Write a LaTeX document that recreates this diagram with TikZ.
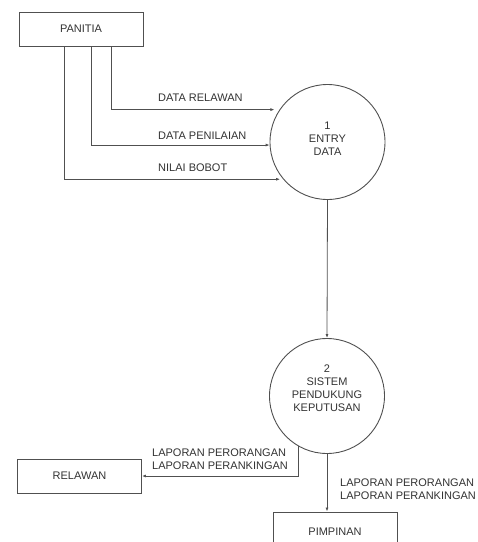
\documentclass[tikz,border=0pt]{standalone}
\usepackage{fontspec}
\setmainfont{Liberation Sans}
\usetikzlibrary{arrows.meta}
\definecolor{ln}{HTML}{505050}
\definecolor{tx}{HTML}{333333}
\begin{document}
\begin{tikzpicture}[x=1pt,y=-1pt,
  every node/.style={text=tx,font=\fontsize{11}{13}\selectfont},
  entity/.style={draw=ln,line width=0.9pt,rectangle,minimum width=124pt,minimum height=34pt,inner sep=0pt},
  proc/.style={draw=ln,line width=0.9pt,circle,minimum size=115pt,inner sep=0pt},
  flow/.style={draw=ln,line width=0.8pt,-{Latex[length=4pt,width=3pt]}},
  lbl/.style={anchor=west,inner sep=0pt,align=left}]
\path[use as bounding box,fill=white] (0,0) rectangle (478,542);
\clip (0,0) rectangle (478,542);
% entities
\node[entity] (panitia) at (81,29) {PANITIA};
\node[entity] (relawan) at (79.5,476) {RELAWAN};
\node[entity] (pimpinan) at (335,529) {};
\node (pimpinantext) at (335,532) {PIMPINAN};
% processes
\node[proc] (e1) at (327.5,142) {};
\node[align=center,inner sep=0pt] (e1t) at (327.5,139) {1\\ENTRY\\DATA};
\node[proc] (e2) at (327,396) {};
\node[align=center,inner sep=0pt] (e2t) at (327,388) {2\\SISTEM\\PENDUKUNG\\KEPUTUSAN};
% flows from PANITIA
\coordinate (s1) at ([xshift=30pt]panitia.south);
\coordinate (s2) at ([xshift=10pt]panitia.south);
\coordinate (s3) at ([xshift=-17pt]panitia.south);
\draw[flow] (s1) |- ([xshift=-5pt]e1.146);
\draw[flow] (s2) |- (e1.183);
\draw[flow] (s3) |- ([xshift=-3pt]e1.220);
\node[lbl] (l1) at (158,98) {DATA RELAWAN};
\node[lbl] (l2) at (158,136) {DATA PENILAIAN};
\node[lbl] (l3) at (158,168) {NILAI BOBOT};
% process 1 to process 2
\draw[flow] (e1.south) -- (e2.north);
% process 2 outputs
\draw[flow] (e2.240) |- (relawan.east);
\node[lbl] (l4) at (152,459.5) {LAPORAN PERORANGAN\\LAPORAN PERANKINGAN};
\draw[flow] (e2.south) -- (e2.south |- pimpinan.north);
\node[lbl] (l5) at (340,489.5) {LAPORAN PERORANGAN\\LAPORAN PERANKINGAN};
\end{tikzpicture}
\end{document}
